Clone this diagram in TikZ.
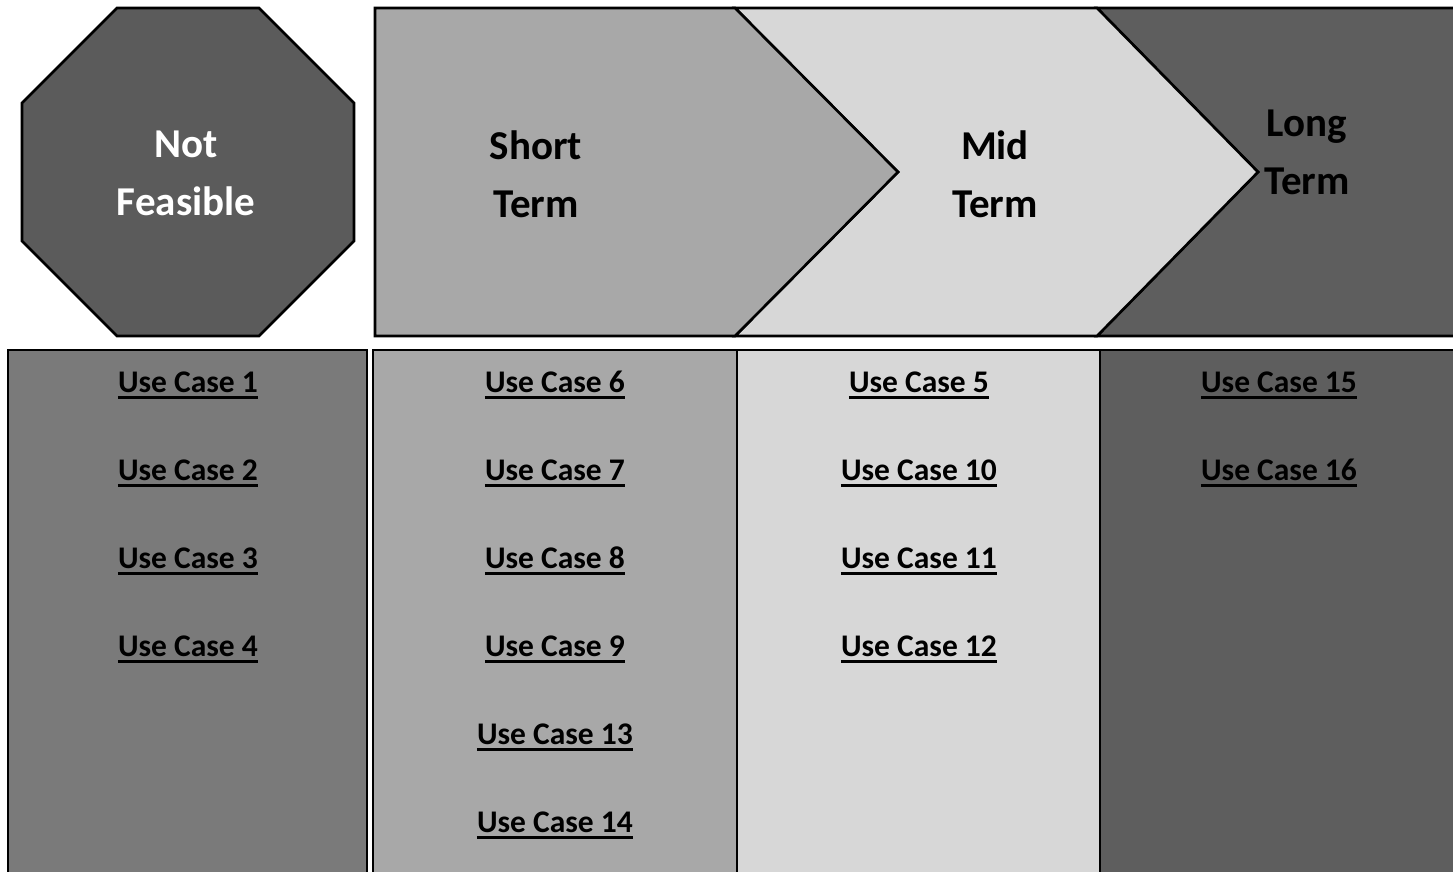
\documentclass[tikz,border=0pt]{standalone}
\usepackage{fontspec}
\setmainfont{Carlito}

\definecolor{notgray}{HTML}{5B5B5B}
\definecolor{nothalf}{HTML}{7A7A7A}
\definecolor{shortgray}{HTML}{A8A8A8}
\definecolor{midgray}{HTML}{D7D7D7}
\definecolor{longgray}{HTML}{5E5E5E}

\begin{document}
\begin{tikzpicture}[x=1pt,y=-1pt,
    panel/.style={draw=black,line width=2.6pt,line join=miter},
    heading/.style={font=\bfseries\fontsize{41}{58}\selectfont,align=center,inner sep=0pt},
    usecase/.style={font=\bfseries\fontsize{31.5}{36}\selectfont,anchor=base,inner sep=0pt},
    ucline/.style={line width=2.8pt}]
    \useasboundingbox (0,0) rectangle (1453,871);

    % stop sign and the three term arrows
    \filldraw[panel,fill=notgray] (117,8) -- (259,8) -- (354,103) -- (354,241)
        -- (259,336) -- (117,336) -- (22,241) -- (22,103) -- cycle;
    \filldraw[panel,fill=longgray] (1097,8) -- (1470,8) -- (1470,336) -- (1097,336) -- (1258,172) -- cycle;
    \filldraw[panel,fill=midgray] (735,8) -- (1097,8) -- (1258,172) -- (1097,336) -- (735,336) -- (898,172) -- cycle;
    \filldraw[panel,fill=shortgray] (375,8) -- (735,8) -- (898,172) -- (735,336) -- (375,336) -- cycle;

    \node[heading,text=white] (notfeasible) at (186,173) {Not\\Feasible};
    \node[heading] (shortterm) at (536,174) {Short\\Term};
    \node[heading] (midterm) at (995,174) {Mid\\Term};
    \node[heading] (longterm) at (1307,152) {Long\\Term};

    % columns below
    \filldraw[panel,fill=nothalf] (8,350) rectangle (367,890);
    \filldraw[panel,fill=shortgray] (373,350) rectangle (737,890);
    \filldraw[panel,fill=midgray] (737,350) rectangle (1100,890);
    \filldraw[panel,fill=longgray] (1100,350) rectangle (1470,890);

    \foreach \n/\x/\k in {1/188/0,2/188/1,3/188/2,4/188/3,
                          6/555/0,7/555/1,8/555/2,9/555/3,13/555/4,14/555/5,
                          5/919/0,10/919/1,11/919/2,12/919/3,
                          15/1279/0,16/1279/1}{
        \node[usecase] (uc\n) at (\x,{392+88*\k}) {Use Case \n};
        \draw[ucline] ([yshift=-5.3pt]uc\n.base west) -- ([yshift=-5.3pt]uc\n.base east);
    }
\end{tikzpicture}
\end{document}
